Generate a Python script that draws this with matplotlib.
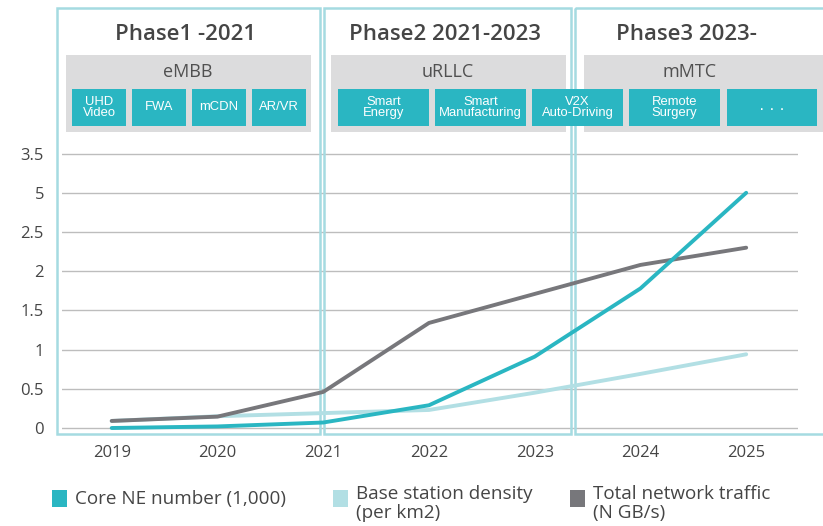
import matplotlib
matplotlib.use("Agg")
import matplotlib.pyplot as plt
from matplotlib.patches import Rectangle

# ---------------- data ----------------
years = [2019, 2020, 2021, 2022, 2023, 2024, 2025]
core_ne = [0.0, 0.02, 0.07, 0.29, 0.91, 1.78, 3.0]
base_station = [0.09, 0.15, 0.19, 0.23, 0.45, 0.69, 0.94]
traffic = [0.09, 0.145, 0.46, 1.34, 1.71, 2.08, 2.3]

series_names = ["Core NE number (1,000)", "Base station density\n(per km2)",
                "Total network traffic\n(N GB/s)"]
y_ticks = [0, 0.5, 1, 1.5, 2, 2.5, 3, 3.5]
y_tick_labels = ["0", "0.5", "1", "1.5", "2", "2.5", "5", "3.5"]

phase_titles = ["Phase1 -2021", "Phase2 2021-2023", "Phase3 2023-"]
phase_groups = ["eMBB", "uRLLC", "mMTC"]
scenario_labels = ["UHD\nVideo", "FWA", "mCDN", "AR/VR",
                   "Smart\nEnergy", "Smart\nManufacturing", "V2X\nAuto-Driving",
                   "Remote\nSurgery", "..."]

# ---------------- style ----------------
TEAL = "#2ab6c2"
LIGHT = "#b2dfe4"
DARK = "#77777b"
BORDER = "#a5dbe1"
PANEL = "#dcdcdd"
TXT = "#454545"
FONT = ["Open Sans", "DejaVu Sans"]
BOXFONT = ["Liberation Sans", "DejaVu Sans"]

W, H = 823, 526
fig = plt.figure(figsize=(W / 100, H / 100), dpi=100)

# overlay axes in pixel coordinates
ov = fig.add_axes([0, 0, 1, 1], zorder=0)
ov.set_xlim(0, W)
ov.set_ylim(H, 0)
ov.axis("off")

# main chart axes
y0px, scale = 428.0, 78.4
ylo, yhi = -0.06, 3.6
bot_px = y0px - ylo * scale
top_px = y0px - yhi * scale
left_px, right_px = 62, 798
ax = fig.add_axes([left_px / W, (H - bot_px) / H, (right_px - left_px) / W,
                   (bot_px - top_px) / H], zorder=1)
ax.set_facecolor("none")
ax.set_xlim(2018.53, 2025.49)
ax.set_ylim(ylo, yhi)
for s in ax.spines.values():
    s.set_visible(False)
ax.set_yticks(y_ticks)
ax.set_yticklabels(y_tick_labels, fontfamily=FONT, fontsize=12, color=TXT)
ax.set_xticks(years)
ax.set_xticklabels([str(y) for y in years], fontfamily=FONT, fontsize=12, color=TXT)
ax.tick_params(axis="y", length=0, pad=13)
ax.tick_params(axis="x", length=0, pad=9)
ax.set_axisbelow(True)
ax.yaxis.grid(True, color="#bdbdbd", linewidth=1.0)
ax.xaxis.grid(False)

# phase borders (between grid and lines)
phase_boxes = [(57, 320), (324, 571), (575, 840)]
for x0, x1 in phase_boxes:
    r = Rectangle((x0, 8), x1 - x0, 434 - 8, fill=False, edgecolor=BORDER,
                  linewidth=1.8, transform=ov.transData, clip_on=False, zorder=1)
    ax.add_patch(r)

ax.plot(years, base_station, color=LIGHT, linewidth=2.8, zorder=2,
        solid_capstyle="round", solid_joinstyle="round")
ax.plot(years, traffic, color=DARK, linewidth=2.8, zorder=3,
        solid_capstyle="round", solid_joinstyle="round")
ax.plot(years, core_ne, color=TEAL, linewidth=2.8, zorder=4,
        solid_capstyle="round", solid_joinstyle="round")

# ---------------- header panels ----------------
title_x = [186, 445, 686]
for t, x in zip(phase_titles, title_x):
    ov.text(x, 35, t, ha="center", va="center", fontsize=16, fontweight="semibold",
            color=TXT, family=FONT)

panels = [(66, 311), (331, 566), (584, 830)]
group_x = [188, 448, 690]
for (x0, x1), g, gx in zip(panels, phase_groups, group_x):
    ov.add_patch(Rectangle((x0, 55), x1 - x0, 77, facecolor=PANEL, edgecolor="none"))
    ov.text(gx, 72, g, ha="center", va="center", fontsize=13, color="#505050",
            family=FONT)

boxes = [(72, 126), (132, 186), (192, 246), (252, 306),
         (338, 429), (435, 526), (532, 623), (629, 720), (727, 817)]
for (x0, x1), lab in zip(boxes, scenario_labels):
    ax.add_patch(Rectangle((x0, 89), x1 - x0, 37, facecolor=TEAL, edgecolor="none",
                           transform=ov.transData, clip_on=False, zorder=5))
    if lab == "...":
        ax.text((x0 + x1) / 2, 110, "\u00b7 \u00b7 \u00b7", ha="center", va="center",
                fontsize=12, color="white", family=BOXFONT,
                transform=ov.transData, clip_on=False, zorder=6)
    else:
        ax.text((x0 + x1) / 2, 107.5, lab, ha="center", va="center", fontsize=9.4,
                color="white", family=BOXFONT, linespacing=0.85,
                transform=ov.transData, clip_on=False, zorder=6)

# ---------------- legend ----------------
leg_colors = [TEAL, LIGHT, DARK]
leg_sq_x = [52, 333, 570]
for c, x, name in zip(leg_colors, leg_sq_x, series_names):
    ov.add_patch(Rectangle((x, 490), 15, 17, facecolor=c, edgecolor="none"))
    ov.text(x + 23, 499 if "\n" not in name else 503.5, name, ha="left", va="center",
            fontsize=13.6, color=TXT, family=FONT, linespacing=1.12)

fig.savefig("out.png", dpi=100)
